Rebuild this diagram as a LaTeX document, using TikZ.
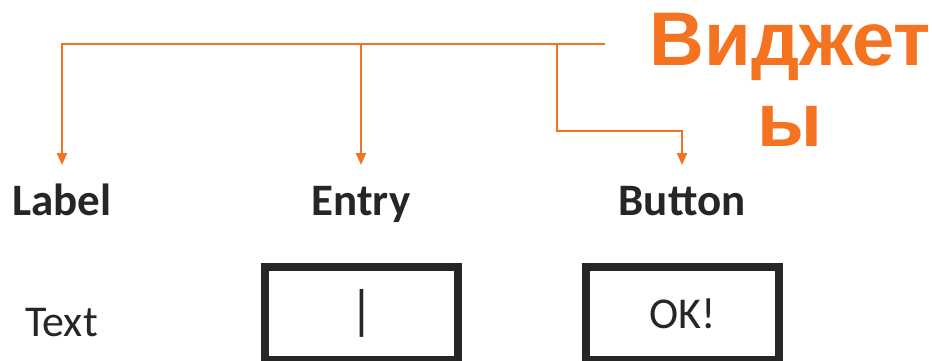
\documentclass[tikz,border=0pt]{standalone}
\usepackage{fontspec}
\setmainfont{Carlito}
\newfontfamily\titlefont{Liberation Sans}
\usetikzlibrary{arrows.meta}
\definecolor{widgetorange}{RGB}{243,115,32}
\definecolor{inkgray}{RGB}{38,38,38}
\tikzset{
  heading/.style={font=\fontsize{45}{54}\selectfont\bfseries, text=inkgray,
    anchor=base, text height=34pt, inner sep=0pt, outer sep=16pt},
  caption/.style={font=\fontsize{44}{52}\selectfont, text=inkgray,
    anchor=base, inner sep=0pt},
  widgetbox/.style={draw=inkgray, line width=8pt, minimum width=193pt,
    minimum height=93pt, inner sep=0pt, font=\fontsize{44}{52}\selectfont,
    text=inkgray},
  title/.style={font=\titlefont\fontsize{76}{81}\selectfont\bfseries,
    text=widgetorange, align=center, anchor=north, inner sep=0pt},
  link/.style={draw=widgetorange, line width=2pt,
    -{Triangle[length=12pt,width=10pt]}},
}
\begin{document}
\begin{tikzpicture}[x=1pt,y=-1pt]
      \useasboundingbox (0,0) rectangle (932,360);
      \draw
        (790,13) node[title] (title){Виджет\\ы}
        (62,215) node[heading] (label){Label}
        (361,215) node[heading] (entry){Entry}
        (682,215) node[heading] (button){Button}
        (61.5,336) node[caption] (text){Text}
        (361.5,313.5) node[widgetbox] (entrybox){\fontsize{54}{60}\selectfont\raisebox{-4pt}{|}}
        (682.5,313.5) node[widgetbox] (okbox){OK!};
      \draw
        (605,44) coordinate (top)
        (361,44) coordinate (j1)
        (557,44) coordinate (j2)
        (682,131) coordinate (bend);
      \begin{scope}[link]
        \draw (top) -| (label);
        \draw (j1) -- (entry);
        \draw (j2) |- (bend) -- (button);
      \end{scope}
    \end{tikzpicture}
\end{document}
